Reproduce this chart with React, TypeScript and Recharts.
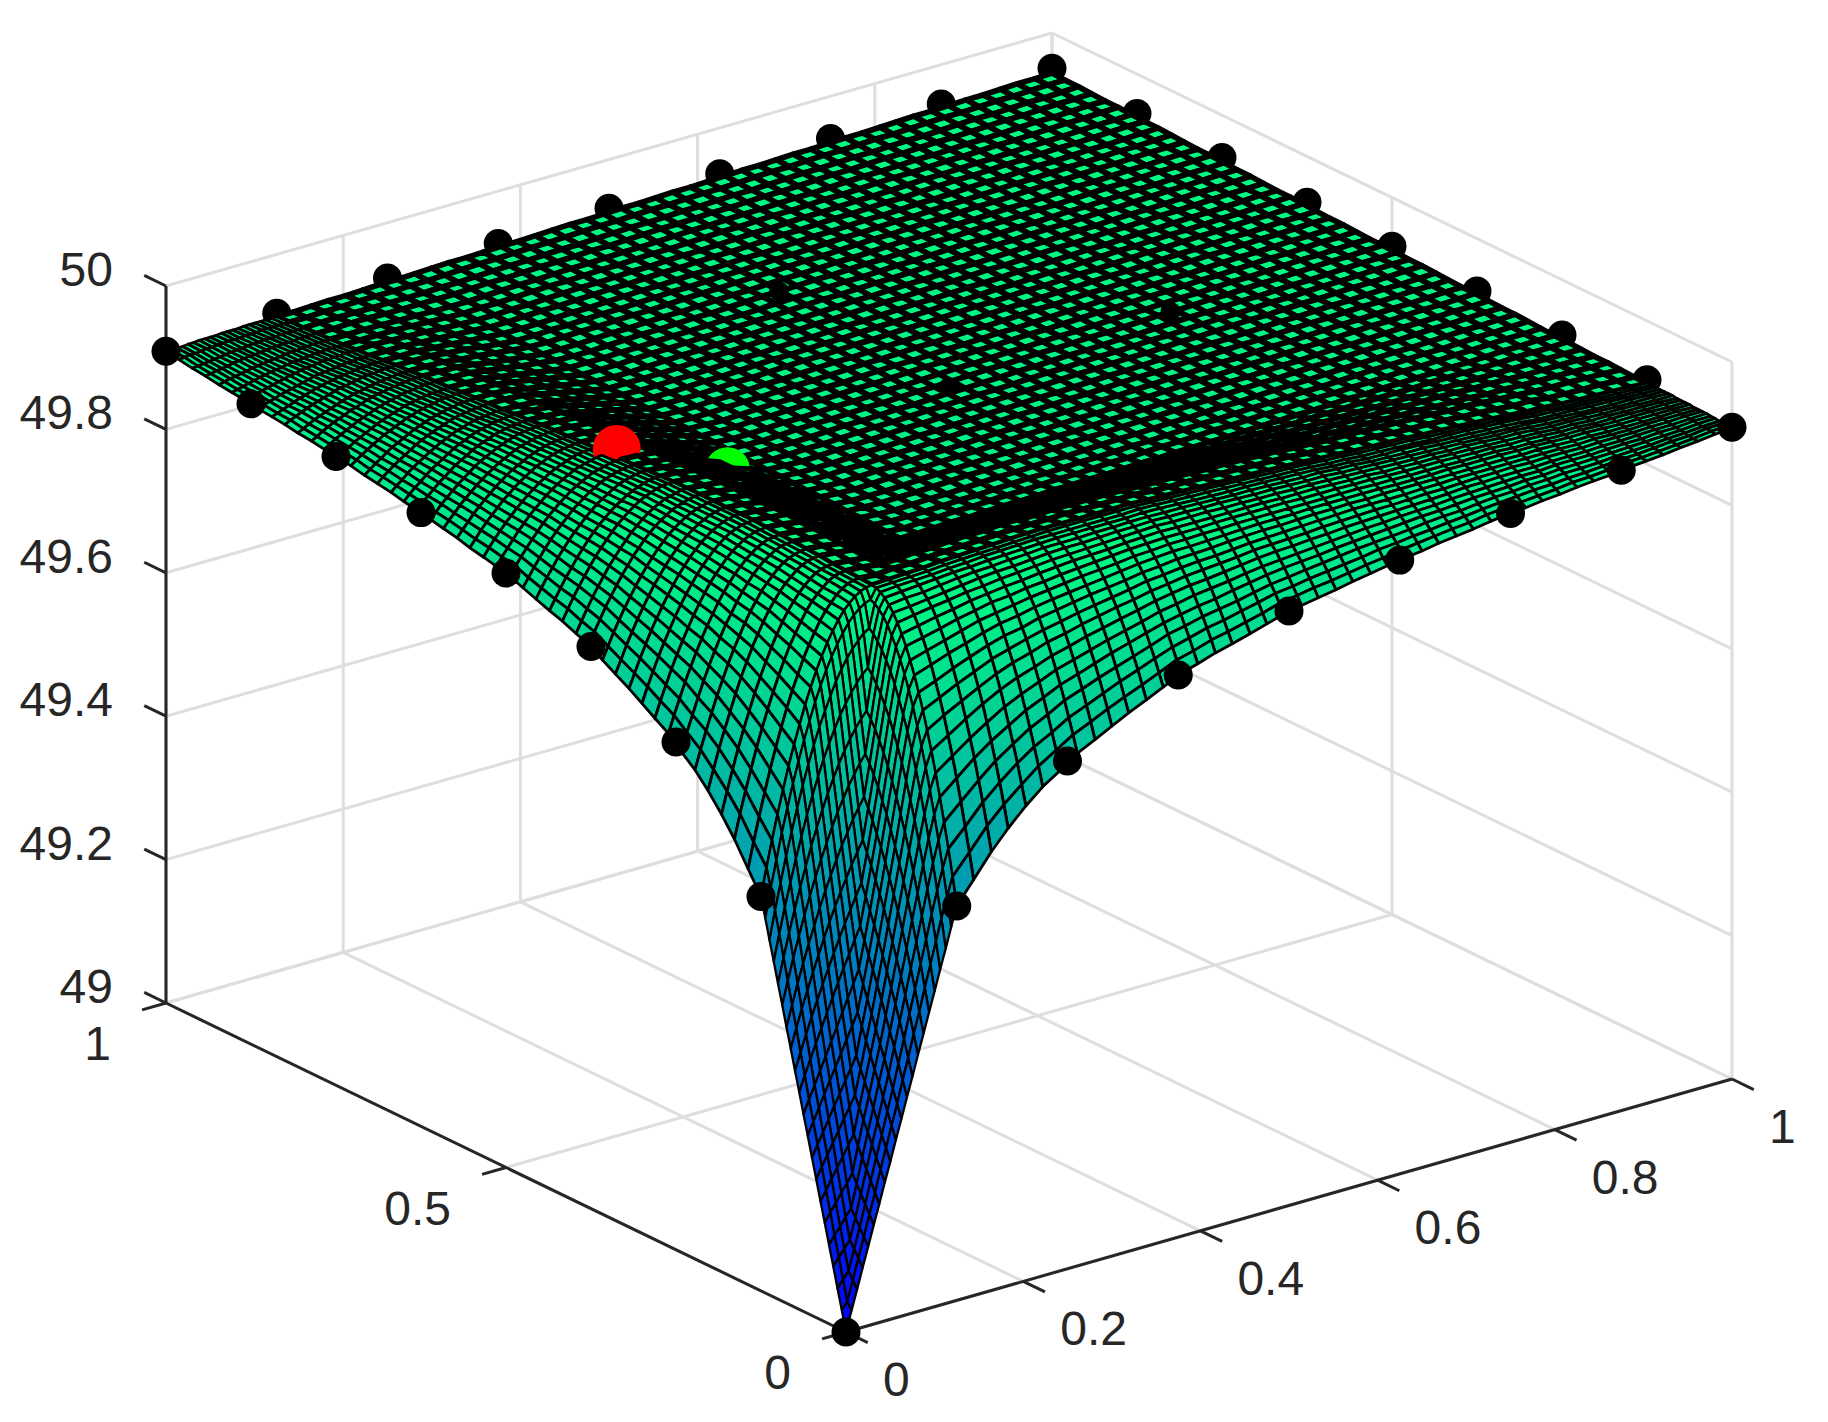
import { ScatterChart, Scatter, XAxis, YAxis } from 'recharts';

const xTicks = [0, 0.2, 0.4, 0.6, 0.8, 1];
const yTicks = [0, 0.5, 1];
const zTicks = [49, 49.2, 49.4, 49.6, 49.8, 50];

// mesh coordinates, finer near the (0,0) corner like the original grid
const meshPos = [
  0, 0.00625, 0.0125, 0.01875, 0.025, 0.03125, 0.0375, 0.04375, 0.05, 0.05625, 0.0625, 0.06875, 0.075, 0.08125, 0.0875, 0.09375,
  0.1, 0.10625, 0.1125, 0.11875, 0.125, 0.144, 0.164, 0.183, 0.203, 0.222, 0.242, 0.261, 0.281, 0.3, 0.319, 0.339, 0.358,
  0.378, 0.397, 0.417, 0.436, 0.456, 0.475, 0.494, 0.514, 0.533, 0.553, 0.572, 0.592, 0.611, 0.631, 0.65, 0.669, 0.689, 0.708,
  0.728, 0.747, 0.767, 0.786, 0.806, 0.825, 0.844, 0.864, 0.883, 0.903, 0.922, 0.942, 0.961, 0.981, 1,
];

// surface height above 49, in thousandths; the surface mirrors across x=y so each row stops at the diagonal
const surfaceRows = [
  [0],
  [28,37],
  [55,65,75],
  [83,93,103,113],
  [110,121,131,142,152],
  [138,150,161,173,184,196],
  [165,178,192,205,218,232,245],
  [193,208,222,237,251,266,280,295],
  [220,236,251,267,283,298,314,329,345],
  [248,265,282,299,316,332,349,366,383,400],
  [275,293,311,329,347,365,383,401,419,437,455],
  [303,324,344,364,383,402,421,440,458,475,493,510],
  [330,353,376,398,419,439,459,478,497,515,532,549,565],
  [358,384,409,432,455,477,498,519,538,556,573,590,605,620],
  [385,413,441,467,492,515,538,559,579,598,616,632,648,662,675],
  [413,444,474,502,529,554,578,600,621,641,660,676,692,706,719,730],
  [440,474,506,536,565,592,618,642,664,685,704,722,738,752,765,776,785],
  [468,504,539,571,602,631,659,684,708,730,750,768,785,799,812,823,833,840],
  [495,534,570,605,637,668,697,724,749,772,792,811,829,844,857,868,877,885,890],
  [523,562,599,635,668,699,728,755,780,804,825,844,861,876,889,901,910,917,922,925],
  [550,588,624,658,690,721,749,775,800,822,843,861,878,892,905,916,924,931,936,939,940],
  [580,615,648,680,710,738,764,789,811,831,851,868,883,897,909,918,927,933,938,940,941,939],
  [612,645,675,703,731,756,780,802,823,842,860,875,889,902,913,921,928,935,939,941,942,941,937],
  [638,668,696,723,748,771,794,814,833,851,867,882,895,906,916,924,931,937,940,942,943,941,938,928],
  [662,689,716,740,763,786,807,826,844,860,875,889,900,911,920,927,934,939,942,944,945,943,940,930,920],
  [682,708,732,755,777,797,817,835,851,867,881,893,905,914,922,930,936,940,943,945,946,944,940,931,921,911],
  [698,723,745,767,788,807,825,842,858,871,885,897,907,917,925,932,937,942,945,946,947,945,942,932,922,912,902],
  [715,738,759,780,799,817,834,850,864,878,890,901,911,919,927,933,939,943,946,947,948,946,943,933,923,913,903,895],
  [727,749,769,789,807,824,840,855,869,882,894,904,913,922,929,935,940,944,947,948,949,947,943,933,924,914,904,895,893],
  [739,760,779,798,815,831,847,861,874,886,897,907,916,924,931,937,942,945,948,949,950,948,945,935,925,915,905,896,894,894],
  [751,770,789,806,823,838,852,866,878,890,900,910,918,926,932,938,942,946,948,950,950,948,945,935,925,915,905,897,895,894,895],
  [762,780,798,814,830,844,858,871,882,893,903,912,920,927,933,938,942,946,948,950,950,948,944,935,925,915,906,897,896,895,896,896],
  [773,790,807,822,837,850,863,875,886,896,906,914,922,928,934,939,943,946,948,950,950,949,945,935,926,916,906,898,896,896,896,897,898],
  [785,801,816,831,844,857,869,880,891,900,909,917,924,930,935,940,943,946,948,950,950,948,945,935,926,916,907,899,897,896,897,898,899,899],
  [792,807,822,836,849,861,873,883,893,902,911,918,925,931,936,940,944,946,948,950,950,948,945,935,926,917,907,899,898,897,898,899,899,900,901],
  [800,815,829,842,854,866,877,887,896,905,913,920,926,932,937,941,944,947,949,950,950,948,945,936,927,917,908,900,898,898,899,899,900,901,901,902],
  [806,820,833,846,857,869,879,889,898,906,913,920,926,931,936,940,943,946,948,949,949,948,944,935,926,917,908,901,899,899,899,900,901,901,902,903,903],
  [813,826,839,850,862,872,882,891,899,907,914,921,926,931,936,940,943,945,947,948,948,946,943,935,926,917,909,901,900,899,900,901,901,902,903,904,904,905],
  [820,832,844,855,866,876,885,893,901,909,915,921,927,931,936,939,942,944,946,947,947,945,942,934,926,917,909,902,900,900,901,901,902,903,904,904,905,906,906],
  [827,839,850,860,870,879,888,896,903,910,916,922,927,931,935,939,941,943,945,946,946,945,942,934,926,918,909,902,901,901,901,902,903,904,904,905,906,906,907,908],
  [832,843,853,863,873,881,890,897,904,911,917,922,927,931,935,938,940,942,944,945,945,944,941,933,925,918,910,903,902,901,902,903,904,904,905,906,906,907,908,908,909],
  [836,847,857,866,875,883,891,898,905,911,917,922,927,931,934,937,940,942,943,944,944,943,940,932,925,917,910,904,902,902,903,904,904,905,906,906,907,908,908,909,910,911],
  [840,850,860,869,877,885,893,899,906,912,917,922,927,930,934,937,939,941,942,943,943,942,940,932,925,918,911,904,903,903,904,904,905,906,906,907,908,908,909,910,911,911,912],
  [845,854,863,872,880,887,894,901,907,913,918,922,926,930,933,936,938,940,941,942,942,941,939,932,925,918,911,905,904,903,904,905,906,906,907,908,908,909,910,911,911,912,913,913],
  [849,858,866,875,882,889,896,902,908,913,918,922,926,930,933,935,937,939,940,941,941,940,938,931,924,918,911,905,904,904,905,906,906,907,908,908,909,910,911,911,912,913,913,914,915],
  [853,861,870,877,884,891,897,903,909,914,918,922,926,929,932,935,937,938,939,940,940,939,937,931,924,918,911,906,905,905,906,906,907,908,908,909,910,911,911,912,913,913,914,915,915,916],
  [857,865,872,879,886,892,898,904,909,913,918,922,925,928,931,933,935,936,937,938,938,937,935,929,923,918,912,906,906,906,906,907,908,908,909,910,911,911,912,913,913,914,915,915,916,917,918],
  [860,868,875,881,888,894,899,904,909,914,918,921,925,928,930,932,934,935,936,937,937,936,934,929,923,918,912,907,906,906,907,908,908,909,910,911,911,912,913,913,914,915,915,916,917,918,918,919],
  [864,871,877,884,890,895,900,905,909,914,917,921,924,926,929,931,932,933,934,935,935,934,932,927,922,917,912,908,907,907,908,908,909,910,911,911,912,913,913,914,915,915,916,917,918,918,919,920,920],
  [867,874,880,886,891,896,901,906,910,914,917,920,923,926,928,930,931,932,933,934,934,934,932,927,922,917,912,908,908,908,908,909,910,911,911,912,913,913,914,915,915,916,917,918,918,919,920,920,921,922],
  [870,876,882,887,893,898,902,906,910,914,917,920,923,925,927,929,930,932,932,933,933,933,931,926,922,917,913,909,908,908,909,910,911,911,912,913,913,914,915,915,916,917,918,918,919,920,920,921,922,922,923],
  [874,880,885,890,895,899,904,907,911,914,918,920,923,925,927,928,930,931,931,932,932,931,930,926,922,917,913,909,909,909,910,911,911,912,913,913,914,915,915,916,917,918,918,919,920,920,921,922,922,923,924,925],
  [877,882,887,892,896,900,904,908,911,914,917,919,922,924,925,927,928,929,929,930,930,930,929,925,921,917,913,910,910,910,911,911,912,913,913,914,915,915,916,917,918,918,919,920,920,921,922,922,923,924,925,925,926],
  [879,884,889,893,897,901,905,908,911,914,917,919,921,923,925,926,927,928,929,929,929,929,928,924,921,917,914,911,910,910,911,912,913,913,914,915,915,916,917,918,918,919,920,920,921,922,922,923,924,925,925,926,927,927],
  [882,886,891,895,899,902,905,909,911,914,917,919,921,922,924,925,926,927,928,928,928,928,927,924,920,917,914,911,911,911,912,913,913,914,915,915,916,917,918,918,919,920,920,921,922,922,923,924,925,925,926,927,927,928,929],
  [884,888,892,896,899,902,905,908,911,913,916,917,919,921,922,923,924,925,926,926,926,926,925,922,920,917,914,912,911,912,913,913,914,915,915,916,917,918,918,919,920,920,921,922,922,923,924,925,925,926,927,927,928,929,929,930],
  [887,891,894,898,901,904,906,909,911,914,916,917,919,920,922,923,923,924,925,925,925,925,925,922,920,917,914,912,912,913,913,914,915,915,916,917,918,918,919,920,920,921,922,922,923,924,925,925,926,927,927,928,929,929,930,931,932],
  [889,892,895,898,901,904,906,909,911,913,915,916,918,919,920,921,922,922,923,923,923,923,923,921,919,917,915,913,913,913,914,915,915,916,917,918,918,919,920,920,921,922,922,923,924,925,925,926,927,927,928,929,929,930,931,932,932,933],
  [891,894,897,899,902,904,906,908,910,912,914,915,916,917,918,919,920,920,921,921,921,921,921,919,918,916,915,913,913,914,915,915,916,917,918,918,919,920,920,921,922,922,923,924,925,925,926,927,927,928,929,929,930,931,932,932,933,934,934],
  [894,897,899,901,903,905,907,909,911,912,914,915,916,917,918,918,919,919,920,920,920,921,920,919,918,916,915,914,914,915,915,916,917,918,918,919,920,920,921,922,922,923,924,925,925,926,927,927,928,929,929,930,931,932,932,933,934,934,935,936],
  [896,898,900,902,904,906,907,909,910,911,913,914,914,915,916,917,917,918,918,918,918,918,918,918,917,916,915,914,915,915,916,917,918,918,919,920,920,921,922,922,923,924,925,925,926,927,927,928,929,929,930,931,932,932,933,934,934,935,936,936,937],
  [898,900,902,903,905,906,908,909,910,911,912,913,914,915,915,916,916,917,917,917,917,917,917,917,916,916,915,915,915,916,917,918,918,919,920,920,921,922,922,923,924,925,925,926,927,927,928,929,929,930,931,932,932,933,934,934,935,936,936,937,938,939],
  [901,902,904,905,906,908,909,910,911,911,912,913,914,914,915,915,915,916,916,916,916,916,917,917,916,916,916,916,916,917,918,918,919,920,920,921,922,922,923,924,925,925,926,927,927,928,929,929,930,931,932,932,933,934,934,935,936,936,937,938,939,939,940],
  [903,904,905,906,907,908,909,910,911,911,912,913,913,914,914,914,915,915,915,915,915,916,916,916,916,916,916,916,917,917,918,919,920,920,921,922,922,923,924,925,925,926,927,927,928,929,929,930,931,932,932,933,934,934,935,936,936,937,938,939,939,940,941,941],
  [906,907,908,908,909,910,910,911,911,912,912,912,913,913,913,914,914,914,914,914,914,914,915,915,916,916,916,917,917,918,919,920,920,921,922,922,923,924,925,925,926,927,927,928,929,929,930,931,932,932,933,934,934,935,936,936,937,938,939,939,940,941,941,942,943],
  [908,908,909,909,910,910,911,911,911,911,912,912,912,912,913,913,913,913,913,913,913,913,914,915,915,916,917,917,918,919,920,920,921,922,922,923,924,925,925,926,927,927,928,929,929,930,931,932,932,933,934,934,935,936,936,937,938,939,939,940,941,941,942,943,943,944],
];

// black markers: edge position on the axis, and their heights
const edgePos = [0.125, 0.25, 0.375, 0.5, 0.625, 0.75, 0.875, 1];
const frontDotZ = [49.55, 49.708, 49.784, 49.829, 49.856, 49.877, 49.893, 49.909];
const backDotZ = [49.918, 49.923, 49.927, 49.932, 49.936, 49.941, 49.945, 49.951];
const innerDots = [[0.5, 0.5, 49.912], [0.5, 0.75, 49.931], [0.75, 0.5, 49.929]];
const redDot = [0.125, 0.5, 49.958];
const greenDot = [0.25, 0.5, 49.885];

const W = 1828;
const H = 1422;
const project = (x: number, y: number, z: number) => ({
  px: 846 + 886 * x - 680 * y,
  py: 1332 - 253 * x - 329 * y - 717 * (z - 49),
});

const height = (i: number, j: number) => {
  const row = surfaceRows[Math.max(i, j)];
  return 49 + (row[Math.min(i, j)] ?? row[row.length - 1]) / 1000;
};

const winter = (z: number) => {
  const c = Math.min(1, (z - 49) / 0.95);
  return `rgb(0,${Math.round(255 * c)},${Math.round(255 * (1 - c / 2))})`;
};

// painter's order: everything sorted far to near, x+y is the distance from the front corner
const buildScene = () => {
  const items: any[] = [];
  const n = meshPos.length - 1;
  for (let i = 0; i < n; i++) {
    for (let j = 0; j < n; j++) {
      const nodes = [[i, j], [i + 1, j], [i + 1, j + 1], [i, j + 1]];
      const corners = nodes.map(([a, b]) => project(meshPos[a], meshPos[b], height(a, b)));
      const mean = nodes.reduce((s, [a, b]) => s + height(a, b), 0) / 4;
      items.push({
        ...corners[0],
        corners,
        fill: winter(mean),
        line: i >= 20 && j >= 20 ? 5.6 : i >= 20 || j >= 20 ? 2.8 : 2.3,
        depth: (meshPos[i] + meshPos[i + 1] + meshPos[j] + meshPos[j + 1]) / 2,
      });
    }
  }
  const addDot = (x: number, y: number, z: number, fill: string, r: number, depth: number) =>
    items.push({ ...project(x, y, z), fill, r, depth });
  // back edge dots go under the whole surface, it cuts them along the edge
  edgePos.forEach((p, k) => {
    addDot(p, 1, backDotZ[k], '#000', 14.5, 9);
    if (k < 7) addDot(1, 1 - p, backDotZ[6 - k], '#000', 14.5, 9);
  });
  addDot(redDot[0], redDot[1], redDot[2], '#ff0000', 24, 0.625);
  addDot(greenDot[0], greenDot[1], greenDot[2], '#00ff00', 22.5, 0.69);
  return items.sort((a, b) => b.depth - a.depth);
};

const scene = buildScene();

const frontDots = [
  project(0, 0, 49),
  ...edgePos.map((p, k) => project(p, 0, frontDotZ[k])),
  ...edgePos.map((p, k) => project(0, p, frontDotZ[k])),
];
const peekDots = innerDots.map(([x, y, z]) => project(x, y, z));

const gridSegments: any[][] = [];
xTicks.forEach(t => {
  gridSegments.push([project(t, 0, 49), project(t, 1, 49)], [project(t, 1, 49), project(t, 1, 50)]);
});
yTicks.forEach(t => {
  gridSegments.push([project(0, t, 49), project(1, t, 49)], [project(1, t, 49), project(1, t, 50)]);
});
zTicks.forEach(t => {
  gridSegments.push([project(0, 1, t), project(1, 1, t)], [project(1, 1, t), project(1, 0, t)]);
});

const axisSegments: any[][] = [
  [project(0, 0, 49), project(1, 0, 49)],
  [project(0, 0, 49), project(0, 1, 49)],
  [project(0, 1, 49), project(0, 1, 50)],
  ...xTicks.map(t => [project(t, 0, 49), project(t, -0.032, 49)]),
  ...yTicks.map(t => [project(0, t, 49), project(-0.027, t, 49)]),
  ...zTicks.map(t => [project(0, 1, t), project(0, 1.032, t)]),
];

const xLabels = xTicks.map(t => ({ ...project(t, 0, 49), text: String(t), side: 'x' }));
const yLabels = yTicks.map(t => ({ ...project(0, t, 49), text: String(t), side: 'y' }));
const zLabels = zTicks.map(t => ({ ...project(0, 1, t), text: String(t), side: 'z' }));

const SceneMark = (props: any) => {
  const m = props.payload;
  if (m.corners) {
    const pts = m.corners.map((c: any) => `${props.cx + c.px - m.px},${props.cy + c.py - m.py}`).join(' ');
    return <polygon points={pts} fill={m.fill} stroke="#000" strokeWidth={m.line} strokeLinejoin="round" />;
  }
  return <circle cx={props.cx} cy={props.cy} r={m.r} fill={m.fill} />;
};

const BlackDot = (props: any) => <circle cx={props.cx} cy={props.cy} r={14.5} fill="#000" />;
const PeekDot = (props: any) => <circle cx={props.cx} cy={props.cy} r={10} fill="#000" />;

const TickLabel = (props: any) => {
  const { text, side } = props.payload;
  const place: any = {
    x: { dx: 37, dy: 64, anchor: 'start' },
    y: { dx: -55, dy: 57, anchor: 'end' },
    z: { dx: -53, dy: 0, anchor: 'end' },
  }[side as string];
  return (
    <text x={props.cx + place.dx} y={props.cy + place.dy} textAnchor={place.anchor} fontFamily="Liberation Sans" fontSize={48} fill="#262626">
      {text}
    </text>
  );
};

const NoMark = () => null;

export default function App() {
  return (
    <div style={{ position: 'absolute', left: 0, top: 0, width: W, height: H, background: '#fff' }}>
      <ScatterChart width={W} height={H} margin={{ top: 0, right: 0, bottom: 0, left: 0 }}>
        <XAxis type="number" dataKey="px" domain={[0, W]} hide allowDataOverflow />
        <YAxis type="number" dataKey="py" domain={[0, H]} reversed hide allowDataOverflow />
        {gridSegments.map((seg, k) => (
          <Scatter key={`g${k}`} data={seg} line={{ stroke: '#dedede', strokeWidth: 3 }} shape={NoMark} isAnimationActive={false} />
        ))}
        {axisSegments.map((seg, k) => (
          <Scatter key={`a${k}`} data={seg} line={{ stroke: '#262626', strokeWidth: 3 }} shape={NoMark} isAnimationActive={false} />
        ))}
        <Scatter data={scene} shape={SceneMark} isAnimationActive={false} />
        <Scatter data={peekDots} shape={PeekDot} isAnimationActive={false} />
        <Scatter data={frontDots} shape={BlackDot} isAnimationActive={false} />
        <Scatter data={[...xLabels, ...yLabels, ...zLabels]} shape={TickLabel} isAnimationActive={false} />
      </ScatterChart>
    </div>
  );
}
